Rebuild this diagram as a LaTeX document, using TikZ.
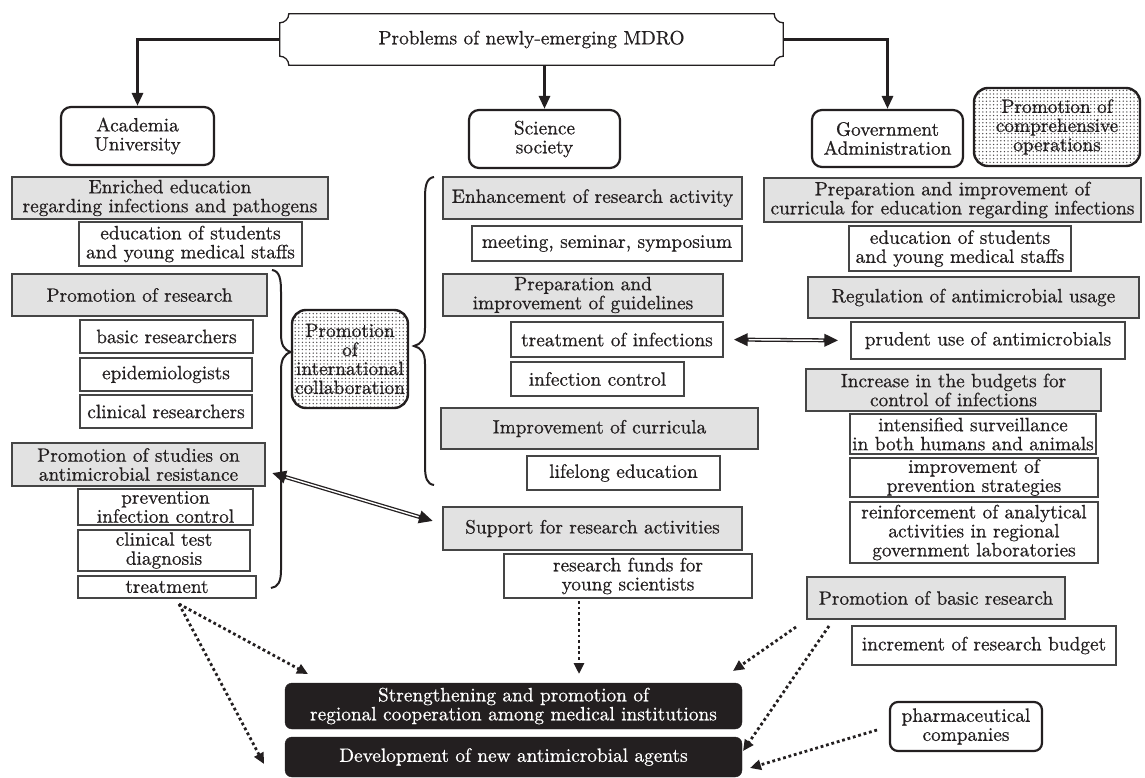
\documentclass[tikz,border=0pt]{standalone}
\usepackage{fontspec}
\newfontfamily\diagfont{lmroman10-regular}[Extension=.otf, FakeBold=0.6]
\usepackage{tikz}
\usetikzlibrary{arrows.meta, positioning, patterns, shapes.misc}
\definecolor{inkcolor}{HTML}{231F20}
\definecolor{panelgray}{HTML}{E2E2E2}
\definecolor{edgegray}{HTML}{454545}
\pgfdeclarepatternformonly{stipple}{\pgfqpoint{-1pt}{-1pt}}{\pgfqpoint{1pt}{1pt}}{\pgfqpoint{3.6pt}{3.6pt}}{%
  \pgfpathcircle{\pgfqpoint{0pt}{0pt}}{0.75pt}\pgfusepath{fill}}

\tikzset{
  box/.style={draw=edgegray, line width=1.3pt, inner sep=0pt, align=center, text=inkcolor},
  graybox/.style={box, fill=panelgray},
  whitebox/.style={box, fill=white},
  actor/.style={draw=inkcolor, line width=2.2pt, rounded corners=10pt, inner sep=0pt, align=center, fill=white, text=inkcolor},
  dotbox/.style={draw=inkcolor, line width=2.4pt, rounded corners=14pt, inner sep=0pt, align=center, pattern=stipple, pattern color=inkcolor!80, text=inkcolor},
  goal/.style={fill=inkcolor, draw=inkcolor, rounded corners=7pt, inner sep=0pt, align=center, text=white},
  mainarrow/.style={line width=3pt, draw=inkcolor, -{Triangle[length=13pt,width=11pt]}},
  dotarrow/.style={line width=2.8pt, draw=inkcolor, dash pattern=on 2.8pt off 2.8pt, -{Triangle[length=11pt,width=10pt]}},
  dblarrow/.style={line width=4pt, draw=inkcolor, {Triangle[length=14pt,width=12pt]}-{Triangle[length=14pt,width=12pt]}},
  dblgap/.style={line width=1.4pt, draw=white},
  brace/.style={line width=2pt, draw=inkcolor},
}

\begin{document}
\begin{tikzpicture}[x=1pt, y=-1pt, font=\diagfont\fontsize{19.3}{19}\selectfont]
  \useasboundingbox (0,0) rectangle (1145,778);

  % Problem
  \node (prob) at (531.5,39.5) [minimum width=503, minimum height=51, inner sep=0pt, text=inkcolor] {Problems of newly-emerging MDRO};
  \draw[line width=1.3pt, draw=inkcolor] ([xshift=9pt]prob.north west) -- ([xshift=-9pt]prob.north east)
    arc[start angle=180, end angle=270, radius=9pt] -- ([yshift=9pt]prob.south east)
    arc[start angle=90, end angle=180, radius=9pt] -- ([xshift=9pt]prob.south west)
    arc[start angle=0, end angle=90, radius=9pt] -- ([yshift=-9pt]prob.north west)
    arc[start angle=270, end angle=360, radius=9pt] -- cycle;

  % Actors
  \node (acad) at (137.5,136) [actor, minimum width=153, minimum height=58] {Academia\\University};
  \node (sci) at (544.5,139) [actor, minimum width=151, minimum height=58] {Science\\society};
  \node (gov) at (887.5,138.5) [actor, minimum width=151, minimum height=57] {Government\\Administration};
  \node (comp) at (1057,127) [dotbox, minimum width=166, minimum height=78] {Promotion of\\comprehensive\\operations};

  \draw[mainarrow] (prob.west) -| (acad.north);
  \draw[mainarrow] (prob.south -| sci.north) -- (sci.north);
  \draw[mainarrow] (prob.east) -| (gov.north);

  % Academia column
  \node (enrich) at (170,198) [graybox, minimum width=316, minimum height=42] {Enriched education\\regarding infections and pathogens};
  \node (eduA) at (190.5,244) [whitebox, minimum width=223, minimum height=44] {education of students\\and young medical staffs};
  \node (promres) at (139.5,295) [graybox, minimum width=255, minimum height=42] {Promotion of research};
  \node (basic) at (166.5,336.5) [whitebox, minimum width=173, minimum height=33] {basic researchers};
  \node (epi) at (166,374.5) [whitebox, minimum width=172, minimum height=33] {epidemiologists};
  \node (clinres) at (166,411.5) [whitebox, minimum width=172, minimum height=33] {clinical researchers};
  \node (promstud) at (138.5,464.5) [graybox, minimum width=253, minimum height=43] {Promotion of studies on\\antimicrobial resistance};
  \node (prevent) at (165.5,507) [whitebox, minimum width=175, minimum height=36] {prevention\\infection control};
  \node (clintest) at (164,550.5) [whitebox, minimum width=172, minimum height=41] {clinical test\\diagnosis};
  \node (treat) at (167,587) [whitebox, minimum width=178, minimum height=22] {treatment};

  \node (intl) at (350,359) [dotbox, minimum width=116, minimum height=98] {Promotion\\of\\international\\collaboration};

  % Braces
  \draw[brace] (272,270) .. controls (280,271) and (281,280) .. (281,292) -- (281,334)
    .. controls (281,345) and (284,350) .. (291,352) .. controls (284,354) and (281,360) .. (281,370)
    -- (281,570) .. controls (281,582) and (278,587) .. (271,588);
  \draw[brace] (434,177) .. controls (427,178) and (425,185) .. (425,197) -- (425,328)
    .. controls (425,340) and (421,344) .. (414,346) .. controls (421,348) and (425,352) .. (425,364)
    -- (425,466) .. controls (425,478) and (427,484) .. (434,485);

  % Science society column
  \node (enhance) at (592.5,198) [graybox, minimum width=299, minimum height=42] {Enhancement of research activity};
  \node (meeting) at (607,243.5) [whitebox, minimum width=270, minimum height=35] {meeting, seminar, symposium};
  \node (guide) at (583,295) [graybox, minimum width=280, minimum height=42] {Preparation and\\improvement of guidelines};
  \node (treatinf) at (617,339.5) [whitebox, minimum width=212, minimum height=35] {treatment of infections};
  \node (infctl) at (597.5,379) [whitebox, minimum width=173, minimum height=34] {infection control};
  \node (curric) at (599.5,428.5) [graybox, minimum width=317, minimum height=41] {Improvement of curricula};
  \node (lifelong) at (623.5,473) [whitebox, minimum width=193, minimum height=34] {lifelong education};
  \node (support) at (592.5,528.5) [graybox, minimum width=299, minimum height=43] {Support for research activities};
  \node (funds) at (628,576) [whitebox, minimum width=248, minimum height=44] {research funds for\\young scientists};

  % Government column
  \node (prepcur) at (952.5,200) [graybox, minimum width=377, minimum height=44] {Preparation and improvement of\\curricula for education regarding infections};
  \node (eduG) at (960,248.5) [whitebox, minimum width=222, minimum height=45] {education of students\\and young medical staffs};
  \node (regul) at (973.5,297.5) [graybox, minimum width=331, minimum height=41] {Regulation of antimicrobial usage};
  \node (prudent) at (988,340.5) [whitebox, minimum width=274, minimum height=37] {prudent use of antimicrobials};
  \node (budget) at (953.5,390) [graybox, minimum width=295, minimum height=42] {Increase in the budgets for\\control of infections};
  \node (surv) at (973,434) [whitebox, minimum width=246, minimum height=40] {intensified surveillance\\in both humans and animals};
  \node (prevstr) at (974,477.5) [whitebox, minimum width=248, minimum height=39] {improvement of\\prevention strategies};
  \node (reinf) at (974,532.5) [whitebox, minimum width=248, minimum height=61] {reinforcement of analytical\\activities in regional\\government laboratories};
  \node (basicres) at (936,598) [graybox, minimum width=258, minimum height=42] {Promotion of basic research};
  \node (increment) at (984,645.5) [whitebox, minimum width=264, minimum height=39] {increment of research budget};
  \node (pharma) at (966,726.5) [actor, rounded corners=8pt, minimum width=152, minimum height=49] {pharmaceutical\\companies};

  % Goals
  \node (strength) at (513.5,706) [goal, minimum width=457, minimum height=46] {Strengthening and promotion of\\regional cooperation among medical institutions};
  \node (develop) at (513.5,757) [goal, minimum width=457, minimum height=40] {Development of new antimicrobial agents};

  % Double arrows
  \coordinate (braceL) at (272,473);
  \coordinate (supportin) at (433,521);
  \draw[dblarrow] (braceL) -- (supportin);
  \draw[dblgap, shorten <=15pt, shorten >=15pt] (braceL) -- (supportin);
  \draw[dblarrow, shorten <=10pt, shorten >=12pt] (treatinf.east) -- (prudent.west);
  \draw[dblgap, shorten <=25pt, shorten >=27pt] (treatinf.east) -- (prudent.west);

  % Dotted arrows
  \coordinate (treatout) at (179,604);
  \coordinate (strin1) at (308,674);
  \coordinate (devin1) at (264,764);
  \coordinate (fundsout) at (579,601);
  \coordinate (strin2) at (579,674);
  \coordinate (basicout1) at (796,627);
  \coordinate (strin3) at (733,671);
  \coordinate (basicout2) at (829,626);
  \coordinate (devin2) at (743,751);
  \coordinate (pharmaout) at (877,730);
  \coordinate (devin3) at (750,768);
  \draw[dotarrow] (treatout) -- (strin1);
  \draw[dotarrow] (treatout) -- (devin1);
  \draw[dotarrow] (fundsout) -- (strin2);
  \draw[dotarrow] (basicout1) -- (strin3);
  \draw[dotarrow] (basicout2) -- (devin2);
  \draw[dotarrow] (pharmaout) -- (devin3);
\end{tikzpicture}
\end{document}
